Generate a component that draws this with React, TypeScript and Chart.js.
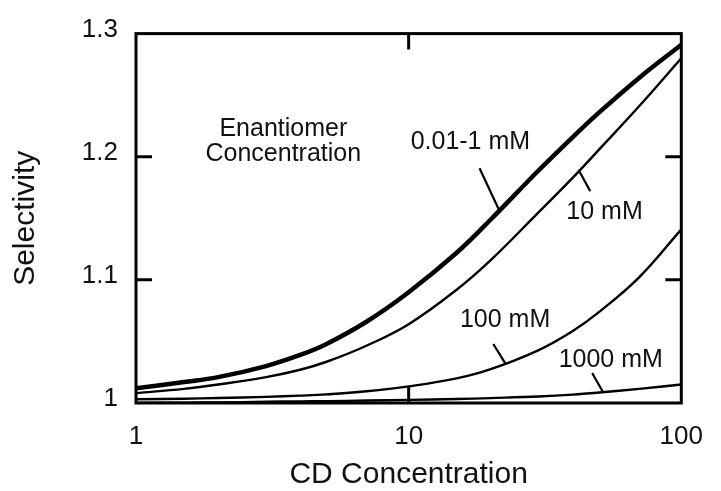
import React, { useEffect, useRef } from "react";
import { Chart, registerables } from "chart.js";

Chart.register(...registerables);

// CD concentration (x, log scale)
const cdConc = [1, 1.5, 2, 3, 4, 5, 7, 10, 15, 20, 30, 40, 50, 70, 100];
// Selectivity per enantiomer concentration
const sel_0_01_1mM = [1.012, 1.017, 1.021, 1.03, 1.039, 1.048, 1.066, 1.09, 1.122, 1.149, 1.189, 1.216, 1.236, 1.264, 1.291];
const sel_10mM = [1.008, 1.0115, 1.015, 1.021, 1.027, 1.0335, 1.0465, 1.064, 1.092, 1.116, 1.155, 1.183, 1.206, 1.241, 1.28];
const sel_100mM = [1.003, 1.0035, 1.004, 1.005, 1.006, 1.007, 1.0095, 1.0135, 1.02, 1.0275, 1.043, 1.0585, 1.074, 1.102, 1.141];
const sel_1000mM = [1.0, 1.0003, 1.0005, 1.001, 1.0013, 1.0015, 1.002, 1.0025, 1.0032, 1.004, 1.0053, 1.0068, 1.0085, 1.0115, 1.015];

const seriesValues = [sel_0_01_1mM, sel_10mM, sel_100mM, sel_1000mM];
const seriesNames = ["0.01-1 mM", "10 mM", "100 mM", "1000 mM"];

// Tick labels
const xTicks = [1, 10, 100];
const yTicks = [1, 1.1, 1.2, 1.3];
const yTickLabels = ["1", "1.1", "1.2", "1.3"];

// Annotation labels (data coordinates)
const labelX = [16.84, 52.3, 22.58, 55.1];
const labelY = [1.2117, 1.1549, 1.0673, 1.0349];
const leaderFromX = [18.2, 41.98, 20.44, 47.1];
const leaderFromY = [1.1906, 1.1895, 1.0479, 1.0243];
const leaderToX = [21.48, 46.35, 22.58, 51.6];
const leaderToY = [1.1565, 1.1719, 1.0324, 1.0089];
const headerLines = ["Enantiomer", "Concentration"];
const headerX = 3.47;
const headerY = [1.2222, 1.2019];

const FONT = "'Liberation Sans', Arial, sans-serif";

const framePlugin = {
  id: "framePlugin",
  afterDatasetsDraw(chart: any) {
    const { ctx, chartArea } = chart;
    const xs = chart.scales.x;
    const ys = chart.scales.y;
    const { left, right, top, bottom } = chartArea;
    ctx.save();
    ctx.strokeStyle = "#000";
    ctx.lineWidth = 3;
    ctx.lineCap = "butt";
    ctx.strokeRect(left, top, right - left, bottom - top);
    const tl = 16;
    ctx.beginPath();
    for (const v of yTicks) {
      const py = ys.getPixelForValue(v);
      if (Math.abs(py - top) < 2 || Math.abs(py - bottom) < 2) continue;
      ctx.moveTo(left, py);
      ctx.lineTo(left + tl, py);
      ctx.moveTo(right, py);
      ctx.lineTo(right - tl, py);
    }
    for (const v of xTicks) {
      const px = xs.getPixelForValue(v);
      if (Math.abs(px - left) < 2 || Math.abs(px - right) < 2) continue;
      ctx.moveTo(px, bottom);
      ctx.lineTo(px, bottom - tl);
      ctx.moveTo(px, top);
      ctx.lineTo(px, top + tl);
    }
    ctx.stroke();

    // annotations
    ctx.fillStyle = "#111";
    ctx.font = `25px ${FONT}`;
    ctx.textAlign = "center";
    ctx.textBaseline = "middle";
    for (let i = 0; i < seriesNames.length; i++) {
      ctx.fillText(seriesNames[i], xs.getPixelForValue(labelX[i]), ys.getPixelForValue(labelY[i]));
    }
    for (let i = 0; i < headerLines.length; i++) {
      ctx.fillText(headerLines[i], xs.getPixelForValue(headerX), ys.getPixelForValue(headerY[i]));
    }
    ctx.lineWidth = 2.2;
    ctx.beginPath();
    for (let i = 0; i < leaderFromX.length; i++) {
      ctx.moveTo(xs.getPixelForValue(leaderFromX[i]), ys.getPixelForValue(leaderFromY[i]));
      ctx.lineTo(xs.getPixelForValue(leaderToX[i]), ys.getPixelForValue(leaderToY[i]));
    }
    ctx.stroke();
    ctx.restore();
  },
};

export default function App() {
  const ref = useRef<HTMLCanvasElement | null>(null);
  useEffect(() => {
    if (!ref.current) return;
    const widths = [4.5, 2.4, 2.4, 2.4];
    const chart = new Chart(ref.current, {
      type: "line",
      data: {
        datasets: seriesValues.map((vals, i) => ({
          label: seriesNames[i],
          data: cdConc.map((x, j) => ({ x, y: vals[j] })),
          borderColor: "#000",
          borderWidth: widths[i],
          pointRadius: 0,
          fill: false,
          tension: 0.4,
        })),
      },
      options: {
        responsive: false,
        animation: false,
        layout: { padding: { top: 33, right: 28, left: 0, bottom: 0 } },
        plugins: { legend: { display: false }, tooltip: { enabled: false } },
        scales: {
          x: {
            type: "logarithmic",
            min: 1,
            max: 100,
            grid: { display: false, drawTicks: false },
            border: { display: false },
            afterBuildTicks: (s: any) => {
              s.ticks = xTicks.map((v) => ({ value: v }));
            },
            afterFit: (s: any) => {
              s.height = 88;
            },
            ticks: {
              autoSkip: false,
              maxRotation: 0,
              padding: 18,
              color: "#111",
              font: { family: FONT, size: 26 },
              callback: (v: any) => String(v),
            },
            title: {
              display: true,
              text: "CD Concentration",
              color: "#111",
              font: { family: FONT, size: 30 },
              padding: { top: 0, bottom: -2 },
            },
          },
          y: {
            type: "linear",
            min: 1,
            max: 1.3,
            grid: { display: false, drawTicks: false },
            border: { display: false },
            afterBuildTicks: (s: any) => {
              s.ticks = yTicks.map((v) => ({ value: v }));
            },
            afterFit: (s: any) => {
              s.width = 136;
            },
            ticks: {
              padding: 18,
              labelOffset: -4,
              color: "#111",
              font: { family: FONT, size: 26 },
              callback: (v: any) => {
                const idx = yTicks.findIndex((t) => Math.abs(t - v) < 1e-6);
                return idx >= 0 ? yTickLabels[idx] : "";
              },
            },
            title: {
              display: true,
              text: "Selectivity",
              color: "#111",
              font: { family: FONT, size: 30 },
              padding: { top: 8, bottom: 0 },
            },
          },
        },
      },
      plugins: [framePlugin],
    } as any);
    return () => chart.destroy();
  }, []);
  return (
    <div style={{ position: "absolute", left: 0, top: 0, width: 721, height: 491, background: "#fff" }}>
      <canvas ref={ref} width={721} height={491} style={{ display: "block" }} />
    </div>
  );
}
